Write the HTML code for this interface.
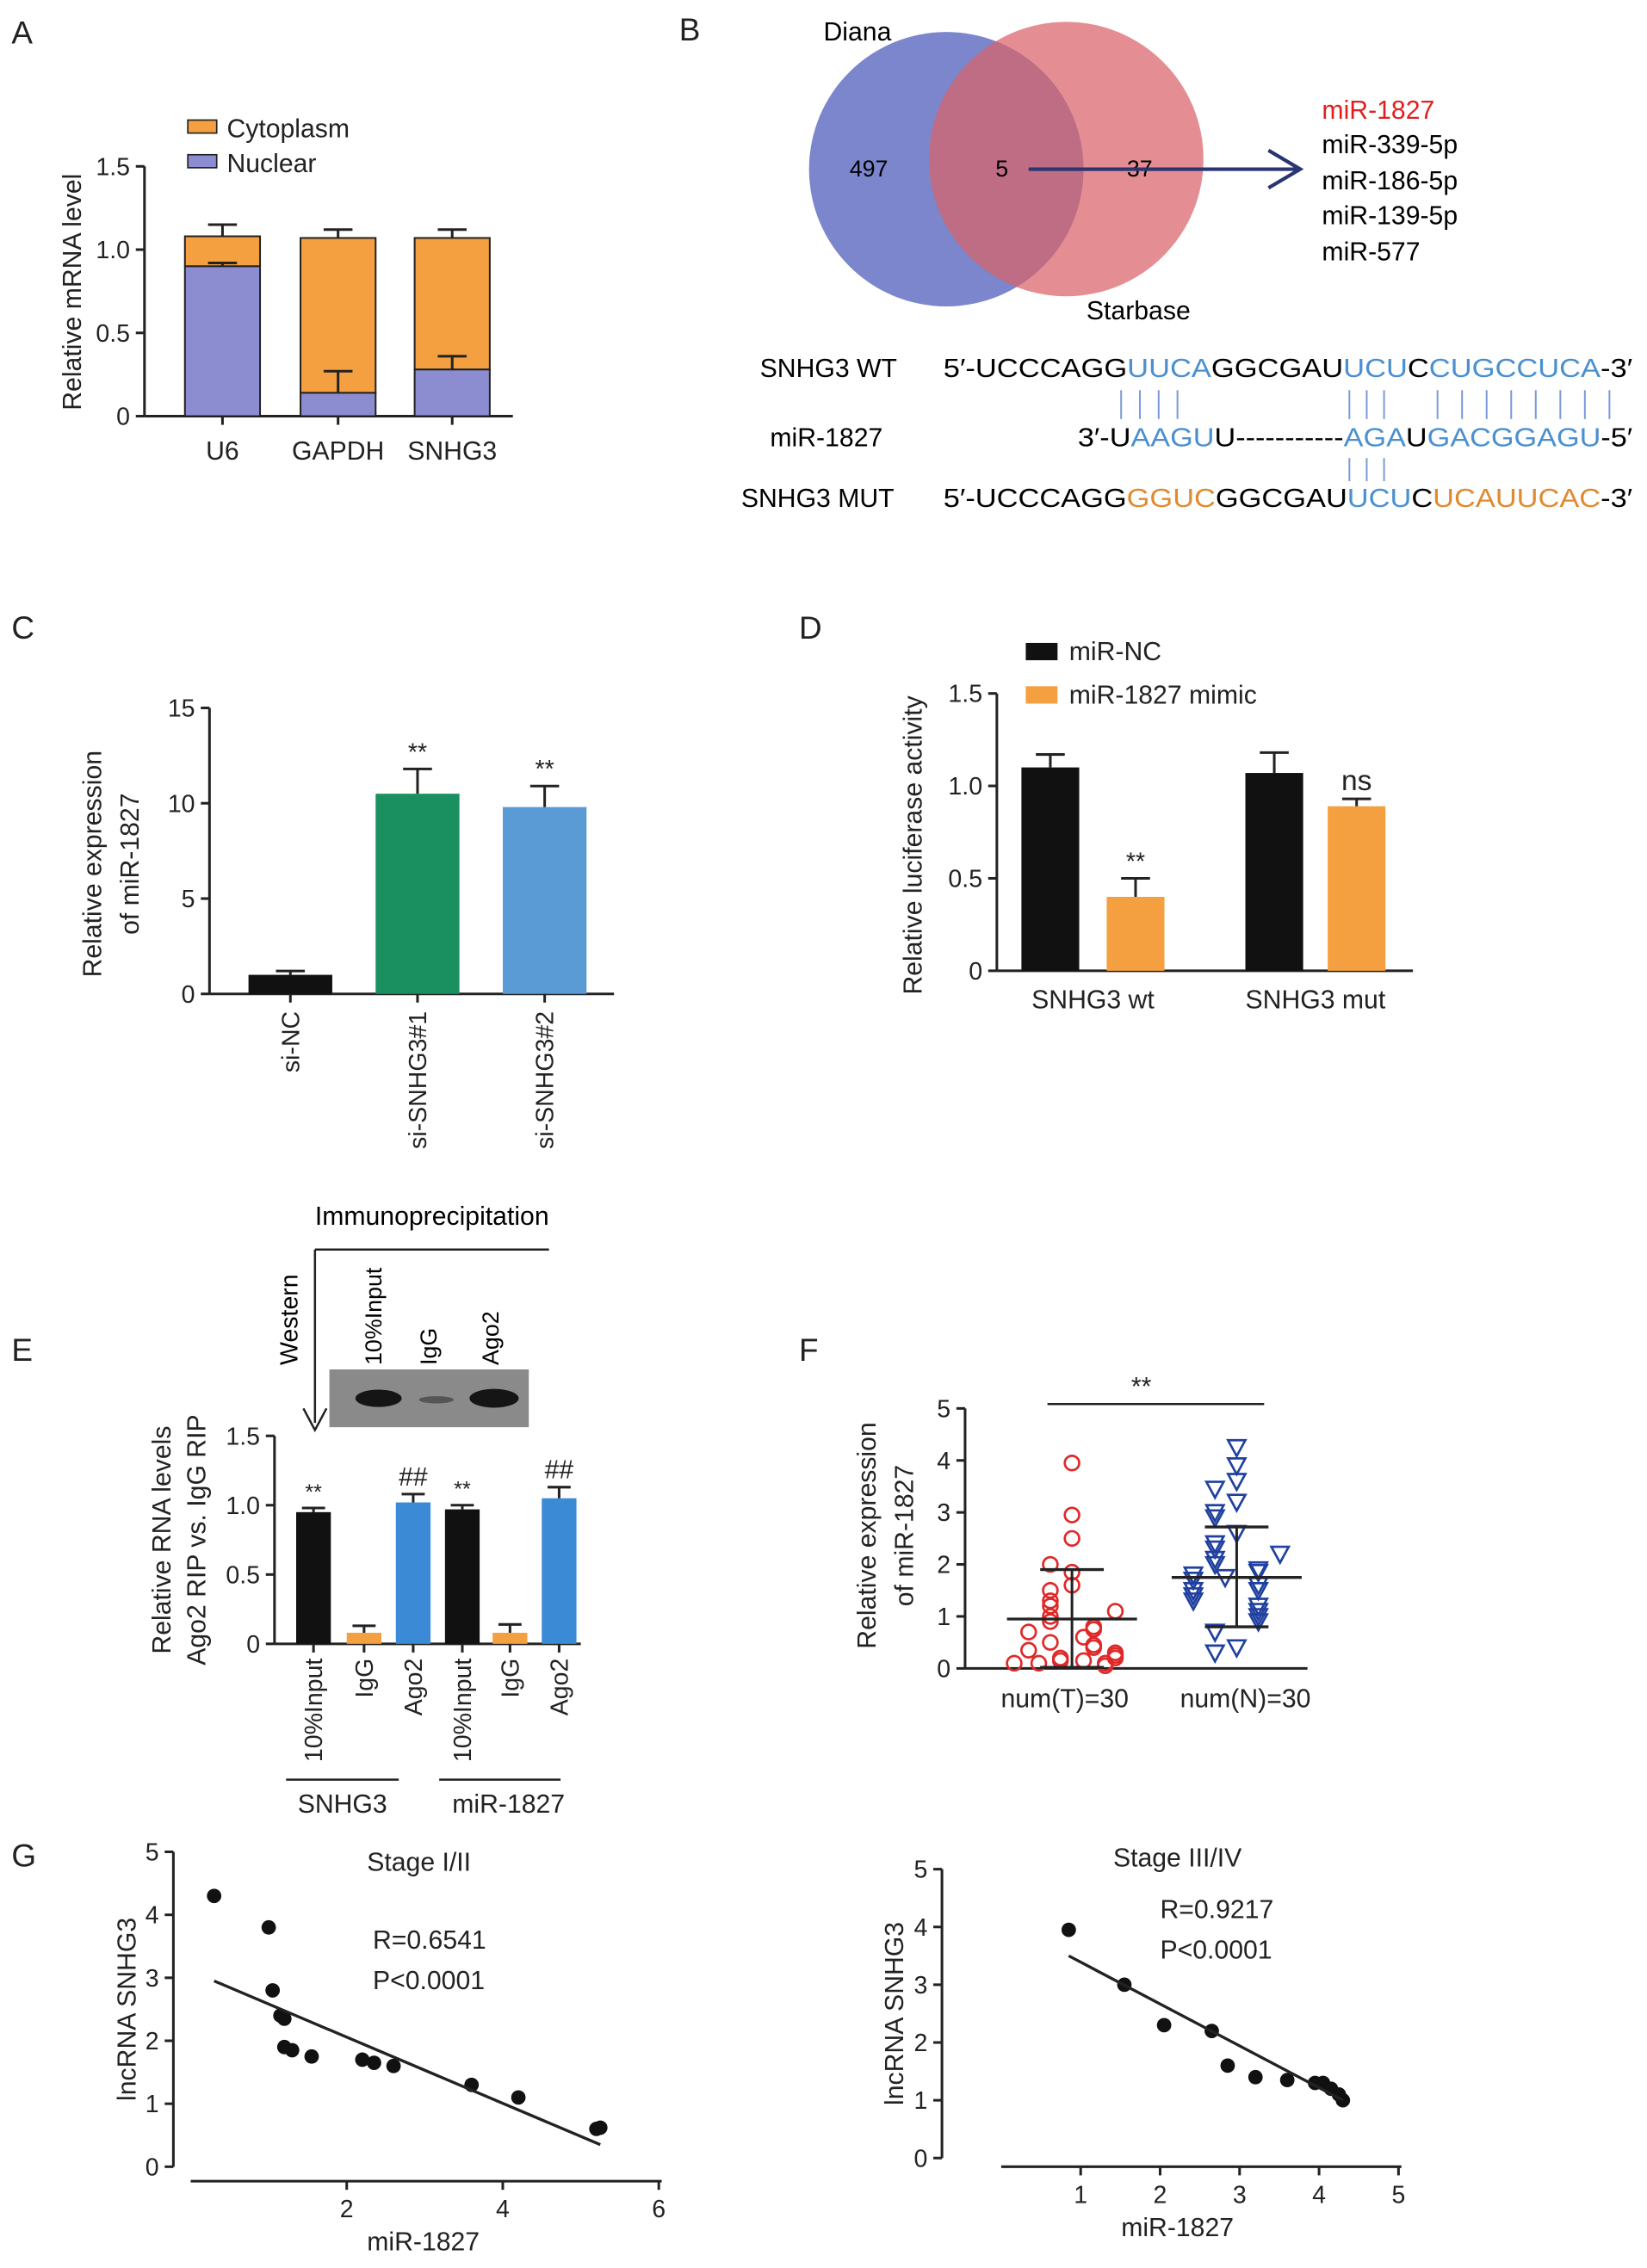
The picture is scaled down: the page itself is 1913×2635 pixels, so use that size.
<!DOCTYPE html>
<html><head><meta charset="utf-8"><style>
html,body{margin:0;padding:0;background:#fff}
svg{display:block;font-family:"Liberation Sans",Arial,sans-serif}
</style></head><body>
<svg id="fig" width="1913" height="2635" viewBox="0 0 1140 1570" xmlns="http://www.w3.org/2000/svg">
<rect width="1140" height="1570" fill="#fff"/>
<g font-size="22" fill="#222">
<text x="8" y="30">A</text>
<text x="470" y="28">B</text>
<text x="8" y="442">C</text>
<text x="553" y="442">D</text>
<text x="8" y="942">E</text>
<text x="553" y="942">F</text>
<text x="8" y="1292">G</text>
</g>
<!-- Venn -->
<g>
<circle cx="655" cy="117" r="95" fill="#7b86cc"/>
<circle cx="738" cy="110" r="95" fill="#d9636a" opacity="0.72"/>
<text x="570" y="28" font-size="18">Diana</text>
<text x="752" y="221" font-size="18">Starbase</text>
<text x="588" y="122" font-size="16">497</text>
<text x="689" y="122" font-size="16">5</text>
<text x="780" y="122" font-size="16">37</text>
<line x1="712" y1="117" x2="898" y2="117" stroke="#2a3570" stroke-width="2.5"/>
<polyline points="878,104 900,117 878,130" fill="none" stroke="#2a3570" stroke-width="2.5"/>
<g font-size="18">
<text x="915" y="82" fill="#e02020">miR-1827</text>
<text x="915" y="106">miR-339-5p</text>
<text x="915" y="131">miR-186-5p</text>
<text x="915" y="155">miR-139-5p</text>
<text x="915" y="180">miR-577</text>
</g>
</g>
<g font-size="18">
<text x="526" y="261">SNHG3 WT</text>
<text x="533" y="309">miR-1827</text>
<text x="513" y="351">SNHG3 MUT</text>
<text x="653" y="261" textLength="477" lengthAdjust="spacingAndGlyphs">5′-UCCCAGG<tspan fill="#4a90d0">UUCA</tspan>GGCGAU<tspan fill="#4a90d0">UCU</tspan>C<tspan fill="#4a90d0">CUGCCUCA</tspan>-3′</text>
<text x="746" y="309" textLength="384" lengthAdjust="spacingAndGlyphs">3′-U<tspan fill="#4a90d0">AAGU</tspan>U-----------<tspan fill="#4a90d0">AGA</tspan>U<tspan fill="#4a90d0">GACGGAGU</tspan>-5′</text>
<text x="653" y="351" textLength="477" lengthAdjust="spacingAndGlyphs">5′-UCCCAGG<tspan fill="#e08a30">GGUC</tspan>GGCGAU<tspan fill="#4a90d0">UCU</tspan>C<tspan fill="#e08a30">UCAUUCAC</tspan>-3′</text>
<g id="pairs" stroke="#7a9ad8" stroke-width="1.2"></g>
</g>
<!-- E blot -->
<g>
<text x="218" y="848" font-size="18">Immunoprecipitation</text>
<line x1="218" y1="865" x2="380" y2="865" stroke="#222" stroke-width="1.5"/>
<line x1="218" y1="865" x2="218" y2="985" stroke="#222" stroke-width="1.5"/>
<polyline points="210,975 218,990 226,975" fill="none" stroke="#222" stroke-width="1.5"/>
<text transform="translate(206,945) rotate(-90)" font-size="17">Western</text>
<text transform="translate(264,945) rotate(-90)" font-size="16">10%Input</text>
<text transform="translate(302,945) rotate(-90)" font-size="16">IgG</text>
<text transform="translate(345,945) rotate(-90)" font-size="16">Ago2</text>
<rect x="228" y="948" width="138" height="40" fill="#8a8a8a"/>
<ellipse cx="262" cy="968" rx="16" ry="6" fill="#151515"/>
<ellipse cx="302" cy="969" rx="12" ry="2.5" fill="#555"/>
<ellipse cx="342" cy="968" rx="17" ry="6.5" fill="#151515"/>
</g>
<g id="charts"></g>
</svg>
<script>
// ---- Data ----
const aCats=['U6','GAPDH','SNHG3'];
const aNuclear=[0.9,0.14,0.28];
const aNuclearErr=[0.92,0.27,0.36];
const aTotal=[1.08,1.07,1.07];
const aTotalErr=[1.15,1.12,1.12];
const aTicks=['0','0.5','1.0','1.5'];
const cCats=['si-NC','si-SNHG3#1','si-SNHG3#2'];
const cVals=[1.0,10.5,9.8];
const cErr=[1.2,11.8,10.9];
const cTicks=[0,5,10,15];
const dCats=['SNHG3 wt','SNHG3 mut'];
const dNC=[1.1,1.07];
const dNCErr=[1.17,1.18];
const dMimic=[0.4,0.89];
const dMimicErr=[0.5,0.93];
const dTicks=['0','0.5','1.0','1.5'];
const eCats=['10%Input','IgG','Ago2','10%Input','IgG','Ago2'];
const eVals=[0.95,0.08,1.02,0.97,0.08,1.05];
const eErr=[0.98,0.13,1.08,1.0,0.14,1.13];
const eSig=['**','','##','**','','##'];
const eTicks=['0','0.5','1.0','1.5'];
const fT=[3.95,2.95,2.5,1.85,1.6,1.5,1.3,1.2,1.0,0.9,0.8,0.75,0.7,0.5,0.45,0.4,0.35,0.3,0.25,0.2,0.2,0.15,0.15,0.1,0.1,0.1,0.05,2.0,0.6,1.1];
const fN=[4.25,3.9,3.6,3.45,3.2,3.0,2.9,2.6,2.4,2.3,2.1,2.0,1.9,1.85,1.8,1.7,1.6,1.5,1.5,1.4,1.3,1.2,1.1,1.0,0.9,0.7,0.4,0.3,1.75,2.2];
const fTStats=[0.95,1.9,0.02];
const fNStats=[1.75,2.72,0.8];
const fTicks=[0,1,2,3,4,5];
const g1X=[0.3,1.0,1.05,1.15,1.2,1.2,1.3,1.55,2.2,2.35,2.6,3.6,4.2,5.2,5.25];
const g1Y=[4.3,3.8,2.8,2.4,2.35,1.9,1.85,1.75,1.7,1.65,1.6,1.3,1.1,0.6,0.62];
const g1Fit=[0.3,2.95,5.25,0.35];
const g2X=[0.85,1.55,2.05,2.65,2.85,3.2,3.6,3.95,4.05,4.15,4.25,4.3];
const g2Y=[3.95,3.0,2.3,2.2,1.6,1.4,1.35,1.3,1.3,1.2,1.1,1.0];
const g2Fit=[0.85,3.5,4.3,1.0];

const NS='http://www.w3.org/2000/svg';
const root=document.getElementById('charts');
function mk(tag,attrs,parent){const e=document.createElementNS(NS,tag);for(const k in attrs)e.setAttribute(k,attrs[k]);(parent||root).appendChild(e);return e;}
function txt(s,x,y,size,anchor,parent,rot){const e=mk('text',{x:x,y:y,'font-size':size,'text-anchor':anchor||'start',fill:'#222'},parent);if(rot!==undefined){e.setAttribute('transform','rotate('+rot+' '+x+' '+y+')');}e.textContent=s;return e;}
function ln(x1,y1,x2,y2,w,c,parent){return mk('line',{x1:x1,y1:y1,x2:x2,y2:y2,stroke:c||'#222','stroke-width':w||1.5},parent);}
function errBar(x,yTop,yBase,hw){ln(x,yTop,x,yBase,1.8);const l=ln(x-hw,yTop,x+hw,yTop,1.8);return l;}

const pg=document.getElementById('pairs');
[776,789,802,815].forEach(x=>{ln(x,270,x,290,1.2,'#7a9ad8',pg);});
[934,946,958].forEach(x=>{ln(x,270,x,290,1.2,'#7a9ad8',pg);ln(x,317,x,333,1.2,'#7a9ad8',pg);});
[995,1012,1029,1046,1063,1080,1097,1114].forEach(x=>{ln(x,270,x,290,1.2,'#7a9ad8',pg);});

// ===== Panel A =====
(function(){
 const g=mk('g',{});
 
 const y0=288,ppu=115.3,ax=100;const Y=v=>y0-v*ppu;
 const xs=[154,234,313],bw=52;
 ln(ax,Y(1.5),ax,y0,1.8,'#222',g);ln(ax,y0,355,y0,1.8,'#222',g);
 aTicks.forEach(t=>{const y=Y(parseFloat(t));ln(ax-6,y,ax,y,1.8,'#222',g);txt(t,ax-10,y+6,17,'end',g);});
 aCats.forEach((c,i)=>{
  ln(xs[i],y0,xs[i],y0+6,1.8,'#222',g);
  errBar(xs[i],Y(aTotalErr[i]),Y(aTotal[i]),10);
  const t=mk('rect',{x:xs[i]-bw/2,y:Y(aTotal[i]),width:bw,height:Y(aNuclear[i])-Y(aTotal[i]),fill:'#f4a040',stroke:'#222','stroke-width':1.2},g);
  
  
  const n=mk('rect',{x:xs[i]-bw/2,y:Y(aNuclear[i]),width:bw,height:y0-Y(aNuclear[i]),fill:'#8c8cd0',stroke:'#222','stroke-width':1.2},g);
  
  
  errBar(xs[i],Y(aNuclearErr[i]),Y(aNuclear[i]),10);
  txt(c,xs[i],318,18,'middle',g);
 });
 txt('Relative mRNA level',56,202,18,'middle',g,-90);
 const l1=mk('rect',{x:130,y:83,width:20,height:9,fill:'#f4a040',stroke:'#222'},g);
 
 
 txt('Cytoplasm',157,95,18,'start',g);
 const l2=mk('rect',{x:130,y:107,width:20,height:9,fill:'#8c8cd0',stroke:'#222'},g);
 
 
 txt('Nuclear',157,119,18,'start',g);
})();

// ===== Panel C =====
(function(){
 const g=mk('g',{});
 
 const y0=688,ppu=13.2,ax=145;const Y=v=>y0-v*ppu;
 const xs=[201,289,377],bw=58,cols=['#111','#1a9060','#5b9bd5'];
 ln(ax,Y(15),ax,y0,1.8,'#222',g);ln(ax,y0,425,y0,1.8,'#222',g);
 cTicks.forEach(t=>{const y=Y(t);ln(ax-6,y,ax,y,1.8,'#222',g);txt(String(t),ax-10,y+6,17,'end',g);});
 cCats.forEach((c,i)=>{
  errBar(xs[i],Y(cErr[i]),Y(cVals[i]),10);
  const r=mk('rect',{x:xs[i]-bw/2,y:Y(cVals[i]),width:bw,height:y0-Y(cVals[i]),fill:cols[i]},g);
  
  
  ln(xs[i],y0,xs[i],y0+6,1.8,'#222',g);
  txt(c,xs[i]+6,700,17,'end',g,-90);
  if(i>0)txt('**',xs[i],Y(cErr[i])-6,17,'middle',g);
 });
 txt('Relative expression',70,598,18,'middle',g,-90);
 txt('of miR-1827',96,598,18,'middle',g,-90);
})();

// ===== Panel D =====
(function(){
 const g=mk('g',{});
 
 const y0=672,ppu=128,ax=690;const Y=v=>y0-v*ppu;
 const xNC=[727,882],xM=[786,939],bw=40;
 ln(ax,Y(1.5),ax,y0,1.8,'#222',g);ln(ax,y0,978,y0,1.8,'#222',g);
 dTicks.forEach(t=>{const y=Y(parseFloat(t));ln(ax-6,y,ax,y,1.8,'#222',g);txt(t,ax-10,y+6,17,'end',g);});
 dCats.forEach((c,i)=>{
  errBar(xNC[i],Y(dNCErr[i]),Y(dNC[i]),10);
  const r=mk('rect',{x:xNC[i]-bw/2,y:Y(dNC[i]),width:bw,height:y0-Y(dNC[i]),fill:'#111'},g);
  
  
  errBar(xM[i],Y(dMimicErr[i]),Y(dMimic[i]),10);
  const m=mk('rect',{x:xM[i]-bw/2,y:Y(dMimic[i]),width:bw,height:y0-Y(dMimic[i]),fill:'#f4a040'},g);
  
  
  txt(c,(xNC[i]+xM[i])/2,698,18,'middle',g);
 });
 txt('**',xM[0],Y(dMimicErr[0])-6,17,'middle',g);
 txt('ns',xM[1],Y(dMimicErr[1])-6,20,'middle',g);
 txt('Relative luciferase activity',638,585,18,'middle',g,-90);
 const l1=mk('rect',{x:710,y:445,width:22,height:12,fill:'#111'},g);
 
 
 txt('miR-NC',740,457,18,'start',g);
 const l2=mk('rect',{x:710,y:475,width:22,height:12,fill:'#f4a040'},g);
 
 
 txt('miR-1827 mimic',740,487,18,'start',g);
})();

// ===== Panel E =====
(function(){
 const g=mk('g',{});
 
 const y0=1138,ppu=96,ax=190;const Y=v=>y0-v*ppu;
 const xs=[217,252,286,320,353,387],bw=24,cols=['#111','#f4a040','#3a8ad6','#111','#f4a040','#3a8ad6'];
 ln(ax,Y(1.5),ax,y0,1.8,'#222',g);ln(ax,y0,402,y0,1.8,'#222',g);
 eTicks.forEach(t=>{const y=Y(parseFloat(t));ln(ax-6,y,ax,y,1.8,'#222',g);txt(t,ax-10,y+6,17,'end',g);});
 eCats.forEach((c,i)=>{
  errBar(xs[i],Y(eErr[i]),Y(eVals[i]),8);
  const r=mk('rect',{x:xs[i]-bw/2,y:Y(eVals[i]),width:bw,height:y0-Y(eVals[i]),fill:cols[i]},g);
  
  
  ln(xs[i],y0,xs[i],y0+6,1.8,'#222',g);
  txt(c,xs[i]+6,1148,17,'end',g,-90);
  if(eSig[i])txt(eSig[i],xs[i],Y(eErr[i])-6,eSig[i]==='##'?18:15,'middle',g);
 });
 ln(198,1232,276,1232,1.5,'#222',g);ln(304,1232,388,1232,1.5,'#222',g);
 txt('SNHG3',237,1255,18,'middle',g);txt('miR-1827',352,1255,18,'middle',g);
 txt('Relative RNA levels',118,1066,18,'middle',g,-90);
 txt('Ago2 RIP vs. IgG RIP',142,1066,18,'middle',g,-90);
})();

// ===== Panel F =====
(function(){
 const g=mk('g',{});
 
 const y0=1155,ppu=36,ax=668;const Y=v=>y0-v*ppu;
 const cx=[742,856];
 ln(ax,Y(5),ax,y0,1.8,'#222',g);ln(ax,y0,905,y0,1.8,'#222',g);
 fTicks.forEach(t=>{const y=Y(t);ln(ax-6,y,ax,y,1.8,'#222',g);txt(String(t),ax-10,y+6,17,'end',g);});
 const off=[0,-15,15,-30,30,-8,8,-23,23,-40,40,-45,45];
 function jit(arr,i){const v=arr[i];let k=0;for(let j=0;j<i;j++)if(Math.abs(arr[j]-v)<0.25)k++;return off[k%off.length];}
 fT.forEach((v,i)=>{
  const c=mk('circle',{cx:cx[0]+jit(fT,i),cy:Y(v),r:5,fill:'none',stroke:'#e02828','stroke-width':1.6},g);
  
  
 });
 fN.forEach((v,i)=>{
  const x=cx[1]+jit(fN,i),y=Y(v);
  const p=mk('polygon',{points:(x-6)+','+(y-5)+' '+(x+6)+','+(y-5)+' '+x+','+(y+6),fill:'none',stroke:'#2040a0','stroke-width':1.6},g);
  
  
 });
 [fTStats,fNStats].forEach((s,i)=>{
  ln(cx[i]-45,Y(s[0]),cx[i]+45,Y(s[0]),2,'#222',g);
  ln(cx[i],Y(s[1]),cx[i],Y(s[2]),1.8,'#222',g);
  ln(cx[i]-22,Y(s[1]),cx[i]+22,Y(s[1]),2,'#222',g);
  ln(cx[i]-22,Y(s[2]),cx[i]+22,Y(s[2]),2,'#222',g);
 });
 ln(725,972,875,972,1.5,'#222',g);txt('**',790,966,18,'middle',g);
 txt('num(T)=30',737,1182,18,'middle',g);txt('num(N)=30',862,1182,18,'middle',g);
 txt('Relative expression',606,1063,18,'middle',g,-90);
 txt('of miR-1827',632,1063,18,'middle',g,-90);
})();

// ===== Panel G =====
function scatter(name,X0,ppx,xTicks,xAxY,xAxStart,xAxEnd,ax,Y0,ppy,yAxTop,xsArr,ysArr,fit,title,tx,ty,rx,ry,xlx,xly,ylx){
 const g=mk('g',{});
 
 const X=v=>X0+v*ppx,Y=v=>Y0-v*ppy;
 ln(ax,Y(5),ax,Y(0),1.8,'#222',g);
 [0,1,2,3,4,5].forEach(t=>{ln(ax-6,Y(t),ax,Y(t),1.8,'#222',g);txt(String(t),ax-10,Y(t)+6,17,'end',g);});
 ln(xAxStart,xAxY,xAxEnd,xAxY,1.8,'#222',g);
 xTicks.forEach(t=>{ln(X(t),xAxY,X(t),xAxY+6,1.8,'#222',g);txt(String(t),X(t),xAxY+25,17,'middle',g);});
 xsArr.forEach((v,i)=>{
  const c=mk('circle',{cx:X(v),cy:Y(ysArr[i]),r:5,fill:'#111'},g);
  
  
 });
 const f=ln(X(fit[0]),Y(fit[1]),X(fit[2]),Y(fit[3]),2,'#222',g);
 
 
 txt(title,tx,ty,18,'middle',g);
 txt(rx[0],rx[1],ry,18,'start',g);txt('P<0.0001',rx[1],ry+28,18,'start',g);
 txt('miR-1827',xlx,xly,18,'middle',g);
 txt('lncRNA SNHG3',ylx,(Y(0)+Y(5))/2,18,'middle',g,-90);
}
scatter('panel-g-stage-1-2',132,54,[2,4,6],1510,132,458,120,1500,43.6,0,g1X,g1Y,g1Fit,'Stage I/II',290,1295,['R=0.6541',258],1349,293,1558,94);
scatter('panel-g-stage-3-4',693,55,[1,2,3,4,5],1500,693,970,652,1494,40,0,g2X,g2Y,g2Fit,'Stage III/IV',815,1292,['R=0.9217',803],1328,815,1548,625);
</script>
</body></html>
